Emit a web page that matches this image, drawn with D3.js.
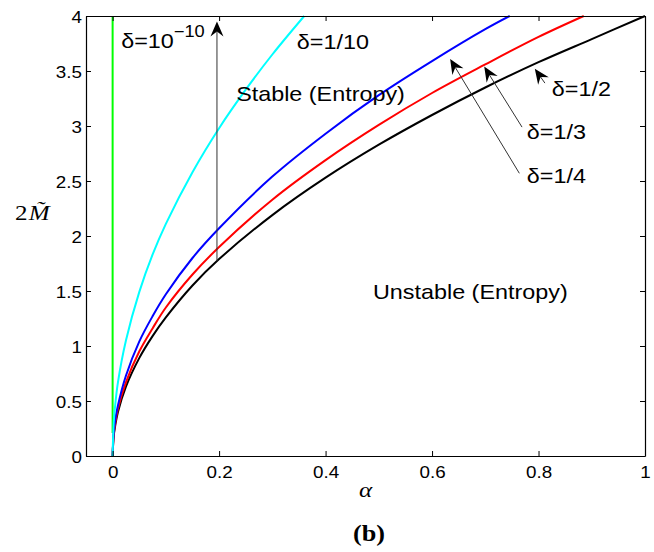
<!DOCTYPE html>
<html>
<head>
<meta charset="utf-8">
<script src="https://cdn.jsdelivr.net/npm/d3@7"></script>
<style>
  html, body { margin: 0; padding: 0; background: #fff; }
  svg { display: block; }
</style>
</head>
<body>
<script>
// ---- data ----
const xTicks = [0, 0.2, 0.4, 0.6, 0.8, 1];
const xTickLabels = ["0", "0.2", "0.4", "0.6", "0.8", "1"];
const yTicks = [0, 0.5, 1, 1.5, 2, 2.5, 3, 3.5, 4];
const yTickLabels = ["0", "0.5", "1", "1.5", "2", "2.5", "3", "3.5", "4"];

const seriesNames = ["δ=10^-10", "δ=1/2", "δ=1/3", "δ=1/4", "δ=1/10"];
const seriesColors = ["#00ff00", "#000000", "#ff0000", "#0000ff", "#00ffff"];

const alphaGreen = [0, 0];
const mGreen = [0.21, 4.0];

const alphaBlack = [0, 0.002, 0.005, 0.01, 0.025, 0.05, 0.075, 0.1, 0.15, 0.2, 0.3, 0.4, 0.5, 0.6, 0.7, 0.8, 0.9, 1.0];
const mBlack =     [0, 0.18, 0.28, 0.40, 0.63, 0.89, 1.09, 1.26, 1.55, 1.79, 2.19, 2.53, 2.83, 3.10, 3.35, 3.58, 3.79, 4.00];

const alphaRed = [0, 0.002, 0.005, 0.01, 0.025, 0.05, 0.075, 0.1, 0.15, 0.2, 0.3, 0.4, 0.5, 0.6, 0.7, 0.8, 0.885];
const mRed =     [0, 0.19, 0.30, 0.43, 0.67, 0.95, 1.16, 1.35, 1.65, 1.90, 2.33, 2.69, 3.01, 3.30, 3.56, 3.81, 4.00];

const alphaBlue = [0, 0.002, 0.005, 0.01, 0.025, 0.05, 0.075, 0.1, 0.15, 0.2, 0.3, 0.4, 0.5, 0.6, 0.7, 0.746];
const mBlue =     [0, 0.21, 0.33, 0.46, 0.73, 1.04, 1.27, 1.47, 1.80, 2.07, 2.54, 2.93, 3.28, 3.59, 3.88, 4.00];

const alphaCyan = [0, 0.002, 0.005, 0.01, 0.025, 0.05, 0.075, 0.1, 0.15, 0.2, 0.25, 0.3, 0.36];
const mCyan =     [0, 0.30, 0.47, 0.67, 1.05, 1.49, 1.83, 2.11, 2.58, 2.98, 3.33, 3.65, 4.00];

// annotation arrows: tail and tip as [alpha, 2M]
const arrowTails = [[0.196, 1.77], [0.764, 2.57], [0.769, 2.99], [0.812, 3.39]];
const arrowTips  = [[0.196, 3.95], [0.634, 3.61], [0.698, 3.54], [0.793, 3.52]];

// annotation texts (left edge alpha, baseline 2M)
const noteTexts = ["Stable (Entropy)", "Unstable (Entropy)", "δ=1/10", "δ=1/2", "δ=1/3", "δ=1/4"];
const notePos = [[0.232, 3.23], [0.489, 1.43], [0.346, 3.70], [0.825, 3.27], [0.778, 2.88], [0.778, 2.48]];

// ---- drawing ----
const W = 654, H = 552;
const SX = 1.14; // horizontal stretch of the original raster text
const svg = d3.select("body").append("svg").attr("width", W).attr("height", H)
  .style("font-family", "'Liberation Sans', Arial, Helvetica, sans-serif");

const x = d3.scaleLinear().domain([-0.05, 1]).range([86, 645]);
const y = d3.scaleLinear().domain([0, 4]).range([456, 16]);

// curves
const line = d3.line().x(d => x(d[0])).y(d => y(d[1])).curve(d3.curveCatmullRom.alpha(0.5));
const lineLin = d3.line().x(d => x(d[0])).y(d => y(d[1]));
const allSeries = [
  [alphaGreen, mGreen], [alphaBlack, mBlack], [alphaRed, mRed], [alphaBlue, mBlue], [alphaCyan, mCyan]
];
const gCurves = svg.append("g");
allSeries.forEach((s, i) => {
  const pts = s[0].map((a, k) => [a, s[1][k]]);
  gCurves.append("path")
    .attr("d", i === 0 ? lineLin(pts) : line(pts))
    .attr("fill", "none")
    .attr("stroke", seriesColors[i])
    .attr("stroke-width", 2)
    .attr("stroke-linejoin", "round");
});

// axes (MATLAB-style box, inward ticks)
const gAx = svg.append("g");
const axB = gAx.append("g").attr("transform", `translate(0,${y(0)})`)
  .call(d3.axisBottom(x).tickValues(xTicks).tickSizeInner(-5).tickSizeOuter(0).tickPadding(0)
    .tickFormat((d, i) => xTickLabels[i]));
const axT = gAx.append("g").attr("transform", `translate(0,${y(4)})`)
  .call(d3.axisTop(x).tickValues(xTicks).tickSizeInner(-5).tickSizeOuter(0).tickFormat(""));
const axL = gAx.append("g").attr("transform", `translate(${x(-0.05)},0)`)
  .call(d3.axisLeft(y).tickValues(yTicks).tickSizeInner(-5).tickSizeOuter(0).tickPadding(0)
    .tickFormat((d, i) => yTickLabels[i]));
const axR = gAx.append("g").attr("transform", `translate(${x(1)},0)`)
  .call(d3.axisRight(y).tickValues(yTicks).tickSizeInner(-5).tickSizeOuter(0).tickFormat(""));
gAx.selectAll(".domain").attr("stroke", "#000").attr("stroke-width", 1.2);
gAx.selectAll(".tick line").attr("stroke", "#000").attr("stroke-width", 1);

axB.selectAll("text")
  .attr("y", null).attr("dy", null).attr("x", null)
  .attr("transform", `translate(0,22) scale(${SX},1)`)
  .attr("font-size", 16.5).attr("font-family", "'Liberation Sans', Arial, sans-serif")
  .attr("fill", "#000").attr("text-anchor", "middle");
axL.selectAll("text")
  .attr("y", null).attr("dy", null).attr("x", null)
  .attr("transform", `translate(-4,6) scale(${SX},1)`)
  .attr("font-size", 16.5).attr("font-family", "'Liberation Sans', Arial, sans-serif")
  .attr("fill", "#000").attr("text-anchor", "end");

// arrows
const gArr = svg.append("g");
arrowTails.forEach((t, i) => {
  const x0 = x(t[0]), y0 = y(t[1]);
  const x1 = x(arrowTips[i][0]), y1 = y(arrowTips[i][1]);
  const dx = x1 - x0, dy = y1 - y0, len = Math.hypot(dx, dy);
  const ux = dx / len, uy = dy / len, px = -uy, py = ux;
  const L = 15, Wd = 6.5, notch = 10;
  const bx = x1 - ux * L, by = y1 - uy * L;
  const nx = x1 - ux * notch, ny = y1 - uy * notch;
  gArr.append("line")
    .attr("x1", x0).attr("y1", y0).attr("x2", nx).attr("y2", ny)
    .attr("stroke", "#333").attr("stroke-width", 1);
  gArr.append("path")
    .attr("d", `M${x1},${y1} L${bx + px * Wd},${by + py * Wd} L${nx},${ny} L${bx - px * Wd},${by - py * Wd} Z`)
    .attr("fill", "#000");
});

// text annotations
const gTxt = svg.append("g").attr("font-size", 20.5).attr("fill", "#000");
noteTexts.forEach((s, i) => {
  gTxt.append("text")
    .attr("transform", `translate(${x(notePos[i][0])},${y(notePos[i][1])}) scale(${SX},1)`)
    .text(s);
});
// δ=10^-10 with superscript
const t10 = gTxt.append("text")
  .attr("transform", `translate(${x(0.016)},${y(3.71)}) scale(${SX},1)`);
t10.append("tspan").text("δ=10");
t10.append("tspan").attr("dy", -11).attr("font-size", 16).text("−10");

// axis titles
svg.append("text")
  .attr("transform", `translate(${x(0.475)},497) scale(${SX},1)`)
  .attr("text-anchor", "middle")
  .attr("font-family", "'Liberation Serif', 'Times New Roman', serif")
  .attr("font-style", "italic").attr("font-size", 22)
  .text("α");

const yl = svg.append("text")
  .attr("transform", `translate(15,220) scale(${SX},1)`)
  .attr("font-family", "'Liberation Serif', 'Times New Roman', serif")
  .attr("font-size", 22);
yl.append("tspan").text("2");
yl.append("tspan").attr("dx", 1).attr("font-style", "italic").text("M\u0303");

svg.append("text")
  .attr("transform", `translate(369,541) scale(${SX},1)`)
  .attr("text-anchor", "middle")
  .attr("font-family", "'Liberation Serif', 'Times New Roman', serif")
  .attr("font-weight", "bold").attr("font-size", 23)
  .text("(b)");
</script>
</body>
</html>
